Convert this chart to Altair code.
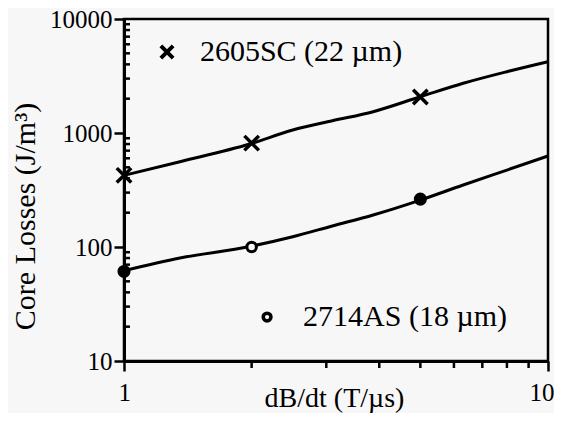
import altair as alt
import pandas as pd

# Curves (log-log)
upper_x = [1, 1.355, 1.98, 2.5, 3.1, 3.87, 5, 6.31, 8.0, 10]
upper_y = [425, 560, 800, 1062, 1280, 1538, 2080, 2730, 3450, 4220]
lower_x = [1, 1.355, 1.98, 2.5, 3.1, 3.87, 5, 6.31, 8.0, 10]
lower_y = [62, 80, 101, 123, 153, 191, 258, 350, 473, 628]

# Measured points
cross_x = [1, 2, 5]
cross_y = [425, 815, 2070]
open_x = [2]
open_y = [100]
dot_x = [1, 5]
dot_y = [61, 263]

# In-plot key (annotation positions in data units)
legend_labels = ["2605SC (22 µm)", "2714AS (18 µm)"]
legend_sym_x = [1.263, 2.175]
legend_sym_y = [5140, 24.3]
legend_text_x = [1.51, 2.645]

x_major = [1, 10]
x_minor = [2, 3, 4, 5, 6, 7, 8, 9]
y_major = [10, 100, 1000, 10000]
y_minor = [m * d for d in (10, 100, 1000) for m in range(2, 10)]

FONT = "Liberation Serif"

curves = pd.DataFrame({
    "x": upper_x + lower_x,
    "y": upper_y + lower_y,
    "s": ["2605SC"] * len(upper_x) + ["2714AS"] * len(lower_x),
})
crosses = pd.DataFrame({"x": cross_x, "y": cross_y})
opens = pd.DataFrame({"x": open_x, "y": open_y})
dots = pd.DataFrame({"x": dot_x, "y": dot_y})
leg = pd.DataFrame({
    "sx": legend_sym_x, "sy": legend_sym_y, "tx": legend_text_x,
    "label": legend_labels, "k": ["cross", "circle"],
})
xmin_df = pd.DataFrame({"v": x_minor})
ymin_df = pd.DataFrame({"v": y_minor})

xs = alt.Scale(type="log", domain=[1, 10], nice=False)
ys = alt.Scale(type="log", domain=[10, 10000], nice=False)

x_axis = alt.Axis(
    orient="bottom",
    values=x_major, format="d", grid=False, tickSize=10, tickWidth=2.5,
    labelPadding=9, labelFontSize=25, labelFont=FONT, labelColor="black",
    labelFlush=True, labelFlushOffset=6,
    domainWidth=3, domainColor="black", tickColor="black",
    title="dB/dt (T/µs)", titleFont=FONT, titleFontSize=28,
    titleFontWeight="normal", titleColor="black",
    titleX=210, titleY=23, titleBaseline="top",
)
y_axis = alt.Axis(
    orient="left",
    values=y_major, format="d", grid=False, tickSize=10, tickWidth=2.5,
    labelPadding=2, labelFontSize=25, labelFont=FONT, labelColor="black",
    domainWidth=3, domainColor="black", tickColor="black",
    title="Core Losses (J/m³)", titleFont=FONT, titleFontSize=30,
    titleFontWeight="normal", titleColor="black",
    titleX=-84, titleY=197,
)

lines = alt.Chart(curves).mark_line(
    color="black", strokeWidth=3, interpolate="monotone"
).encode(
    x=alt.X("x:Q", scale=xs, axis=x_axis),
    y=alt.Y("y:Q", scale=ys, axis=y_axis),
    detail="s:N",
)

x_minor_ticks = alt.Chart(xmin_df).mark_tick(
    orient="vertical", size=6, thickness=2.5, color="black", opacity=1
).encode(x=alt.X("v:Q", scale=xs), y=alt.value(346))

y_minor_ticks = alt.Chart(ymin_df).mark_tick(
    orient="horizontal", size=6, thickness=2.5, color="black", opacity=1
).encode(y=alt.Y("v:Q", scale=ys), x=alt.value(3))

CROSS = "M-1,-1L1,1M-1,1L1,-1"

cross_pts = alt.Chart(crosses).mark_point(
    shape=CROSS, filled=False, stroke="black", strokeWidth=3.5, size=210, opacity=1
).encode(x=alt.X("x:Q", scale=xs), y=alt.Y("y:Q", scale=ys))

open_pts = alt.Chart(opens).mark_point(
    shape="circle", filled=True, fill="#f7f7f7", stroke="black",
    strokeWidth=3, size=90, opacity=1
).encode(x=alt.X("x:Q", scale=xs), y=alt.Y("y:Q", scale=ys))

dot_pts = alt.Chart(dots).mark_point(
    shape="circle", filled=True, fill="black", size=170, opacity=1
).encode(x=alt.X("x:Q", scale=xs), y=alt.Y("y:Q", scale=ys))

leg_cross = alt.Chart(leg).transform_filter("datum.k == 'cross'").mark_point(
    shape=CROSS, filled=False, stroke="black", strokeWidth=4, size=150, opacity=1
).encode(x=alt.X("sx:Q", scale=xs), y=alt.Y("sy:Q", scale=ys))

leg_circle = alt.Chart(leg).transform_filter("datum.k == 'circle'").mark_point(
    shape="circle", filled=False, stroke="black", strokeWidth=3.5, size=60, opacity=1
).encode(x=alt.X("sx:Q", scale=xs), y=alt.Y("sy:Q", scale=ys))

leg_text = alt.Chart(leg).mark_text(
    align="left", baseline="middle", font=FONT, fontSize=30, color="black"
).encode(x=alt.X("tx:Q", scale=xs), y=alt.Y("sy:Q", scale=ys), text="label:N")

chart = alt.layer(
    lines, x_minor_ticks, y_minor_ticks, cross_pts, open_pts, dot_pts,
    leg_cross, leg_circle, leg_text
).properties(
    width=424, height=342,
    autosize=alt.AutoSizeParams(type="none"),
    padding={"left": 116, "top": 11, "right": 6, "bottom": 52},
    background="#f7f7f7",
).configure_view(
    stroke="black", strokeWidth=2.5
)

chart.save("out.html", embed_options={"renderer": "svg", "actions": False})
